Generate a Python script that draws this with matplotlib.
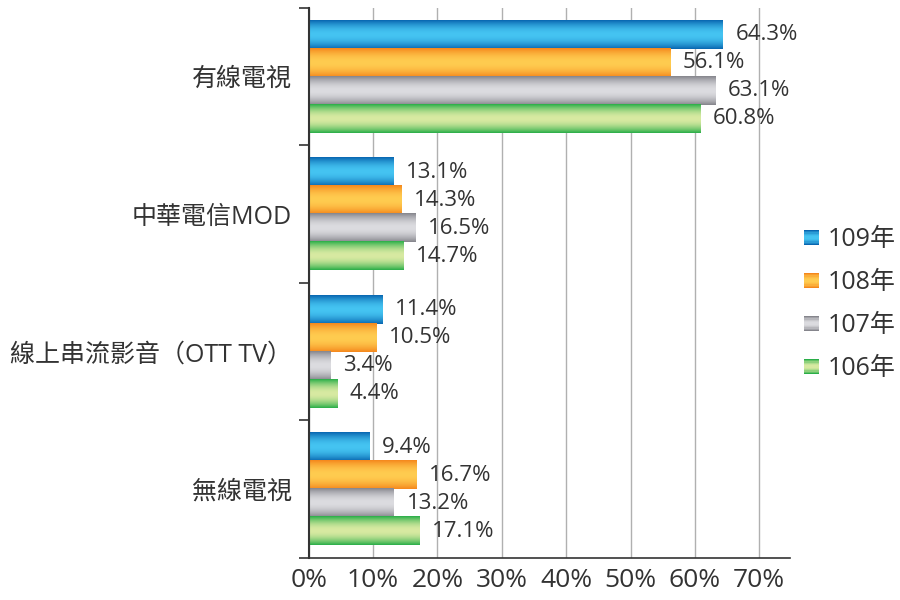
import numpy as np
import matplotlib
matplotlib.use("Agg")
import matplotlib.pyplot as plt
import matplotlib.colors as mcolors
from matplotlib.patches import Rectangle
from matplotlib.legend_handler import HandlerBase

plt.rcParams['font.family'] = ['Open Sans', 'Noto Sans CJK TC', 'DejaVu Sans']

categories = ["有線電視", "中華電信MOD", "線上串流影音（OTT TV）", "無線電視"]
years = ["109年", "108年", "107年", "106年"]
v109 = [64.3, 13.1, 11.4, 9.4]
v108 = [56.1, 14.3, 10.5, 16.7]
v107 = [63.1, 16.5, 3.4, 13.2]
v106 = [60.8, 14.7, 4.4, 17.1]
xticks = [0, 10, 20, 30, 40, 50, 60, 70]

# (edge colour, middle colour) for the shiny bars
shades = [("#0866b0", "#45c4f2"),
          ("#f5871c", "#ffcc50"),
          ("#85858c", "#dcdce0"),
          ("#2aae48", "#d8eaa2")]


def gradient_colors(edge, mid, n=64):
    t = np.linspace(0, 1, n)
    w = np.sin(np.pi * t) ** 0.9
    a = np.array(mcolors.to_rgb(edge))
    b = np.array(mcolors.to_rgb(mid))
    return a[None, :] * (1 - w[:, None]) + b[None, :] * w[:, None]


class GradientHandler(HandlerBase):
    def __init__(self, edge, mid):
        super().__init__()
        self.cols = gradient_colors(edge, mid, 12)

    def create_artists(self, legend, orig_handle, xdescent, ydescent,
                       width, height, fontsize, trans):
        side = height * 0.9
        x0 = xdescent + (width - side) / 2
        y0 = -ydescent + (height - side) / 2
        n = len(self.cols)
        arts = []
        for i, c in enumerate(self.cols):
            r = Rectangle((x0, y0 + side * (n - 1 - i) / n), side, side / n,
                          facecolor=c, edgecolor="none", transform=trans)
            arts.append(r)
        return arts


fig = plt.figure(figsize=(9, 6), dpi=100)
ax = fig.add_axes([0.343, 0.07, 0.535, 0.917])

series = [v109, v108, v107, v106]
ypos = np.arange(len(categories))
h = 0.204
handles = []
for k, (vals, (edge, mid)) in enumerate(zip(series, shades)):
    y = ypos - 1.5 * h + k * h
    bars = ax.barh(y, vals, height=h, color="none", edgecolor="none")
    handles.append(bars)
    img = gradient_colors(edge, mid)[:, None, :]
    for b, v in zip(bars, vals):
        x0, y0 = b.get_x(), b.get_y()
        ax.imshow(img, extent=(x0, x0 + b.get_width(), y0 + b.get_height(), y0),
                  aspect="auto", interpolation="bilinear", zorder=2)
        ax.text(v + 2.0, y0 + b.get_height() / 2, f"{v}%", va="center",
                ha="left", fontsize=16, color="#333333", zorder=3)

ax.set_xlim(0, 74.8)
ax.set_ylim(3.5, -0.5)
ax.set_xticks(xticks)
ax.set_xticklabels([f"{t}%" for t in xticks], fontsize=19, color="#333333")
ax.xaxis.grid(True, color="#b0b0b0", linewidth=1)
ax.set_axisbelow(True)
ax.tick_params(axis="x", length=0, pad=7)

ax.set_yticks(np.arange(-0.5, 4.0, 1.0))
ax.set_yticklabels([])
ax.set_yticks(ypos, minor=True)
ax.set_yticklabels(categories, minor=True, fontsize=18, color="#333333")
ax.tick_params(axis="y", which="major", length=7, width=1.2, color="#333333")
ax.tick_params(axis="y", which="minor", length=0, pad=12)

for s in ["top", "right"]:
    ax.spines[s].set_visible(False)
ax.spines["left"].set_linewidth(1.5)
ax.spines["left"].set_color("#333333")
ax.spines["bottom"].set_linewidth(1.2)
ax.spines["bottom"].set_color("#333333")
ax.set_zorder(1)

hmap = {hd: GradientHandler(e, m) for hd, (e, m) in zip(handles, shades)}
leg = fig.legend(handles, years, loc="center left", bbox_to_anchor=(0.892, 0.493),
                 frameon=False, fontsize=18, handler_map=hmap, borderpad=0,
                 borderaxespad=0, handlelength=0.7, handletextpad=0.3,
                 labelspacing=0.72)
for t in leg.get_texts():
    t.set_color("#333333")

fig.savefig("out.png", dpi=100)
